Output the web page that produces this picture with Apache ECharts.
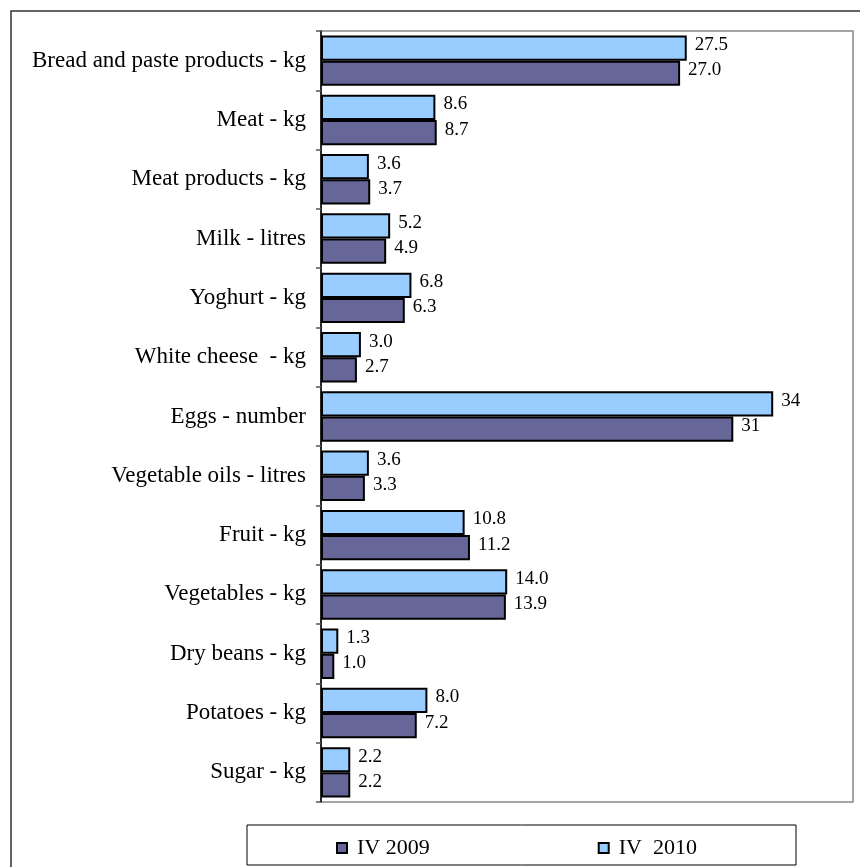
<!DOCTYPE html>
<html>
<head>
<meta charset="utf-8">
<script src="https://cdn.jsdelivr.net/npm/echarts@6/dist/echarts.min.js"></script>
<style>
html,body{margin:0;padding:0;background:#fff;}
#chart{width:860px;height:867px;}
</style>
</head>
<body>
<div id="chart"></div>
<script>
const categories = [
  'Bread and paste products - kg',
  'Meat - kg',
  'Meat products - kg',
  'Milk - litres',
  'Yoghurt - kg',
  'White cheese  - kg',
  'Eggs - number',
  'Vegetable oils - litres',
  'Fruit - kg',
  'Vegetables - kg',
  'Dry beans - kg',
  'Potatoes - kg',
  'Sugar - kg'
];
const values2010 = [27.5, 8.6, 3.6, 5.2, 6.8, 3.0, 34, 3.6, 10.8, 14.0, 1.3, 8.0, 2.2];
const values2009 = [27.0, 8.7, 3.7, 4.9, 6.3, 2.7, 31, 3.3, 11.2, 13.9, 1.0, 7.2, 2.2];
const labelDecimals = [1, 1, 1, 1, 1, 1, 0, 1, 1, 1, 1, 1, 1];
const seriesNames = ['IV 2009', 'IV  2010'];

const FONT = '"Liberation Serif", "DejaVu Serif", serif';
const chart = echarts.init(document.getElementById('chart'), null, {renderer: 'canvas'});

function fmt(p) {
  return p.value.toFixed(labelDecimals[p.dataIndex]);
}

const labelCfg = {
  show: true,
  position: 'right',
  distance: 8,
  offset: [0, -3],
  color: '#000',
  fontFamily: FONT,
  fontSize: 19,
  formatter: fmt
};

chart.setOption({
  animation: false,
  backgroundColor: '#fff',
  graphic: [
    {
      type: 'rect',
      shape: {x: 11, y: 11, width: 880, height: 900},
      style: {fill: 'none', stroke: '#333', lineWidth: 1.5},
      silent: true
    },
    {
      type: 'rect',
      shape: {x: 247, y: 825, width: 549, height: 40},
      style: {fill: '#fff', stroke: '#000', lineWidth: 1},
      silent: true
    }
  ],
  grid: {
    left: 321, top: 31, right: 7, bottom: 65,
    show: true, borderColor: '#888', borderWidth: 1.5,
    containLabel: false
  },
  legend: {
    data: seriesNames,
    left: 331,
    top: 832,
    icon: 'rect',
    itemWidth: 10,
    itemHeight: 10,
    itemGap: 168,
    textStyle: {fontFamily: FONT, fontSize: 22, color: '#000', padding: [0, 0, 0, 5]},
    z: 10
  },
  xAxis: {
    type: 'value',
    min: 0,
    max: 40,
    axisLine: {show: false},
    axisTick: {show: false},
    axisLabel: {show: false},
    splitLine: {show: false}
  },
  yAxis: {
    type: 'category',
    inverse: true,
    data: categories,
    axisLine: {show: true, lineStyle: {color: '#000', width: 1.5}},
    axisTick: {show: true, length: 5, lineStyle: {color: '#555', width: 1.5}},
    axisLabel: {color: '#000', fontFamily: FONT, fontSize: 23, margin: 15},
    splitLine: {show: false}
  },
  series: [
    {
      name: seriesNames[1],
      type: 'bar',
      data: values2010,
      barCategoryGap: '15%',
      barGap: '0%',
      itemStyle: {color: '#99CCFF', borderColor: '#000', borderWidth: 2},
      label: labelCfg
    },
    {
      name: seriesNames[0],
      type: 'bar',
      data: values2009,
      barCategoryGap: '15%',
      barGap: '0%',
      itemStyle: {color: '#666699', borderColor: '#000', borderWidth: 2},
      label: labelCfg
    }
  ]
});
</script>
</body>
</html>
